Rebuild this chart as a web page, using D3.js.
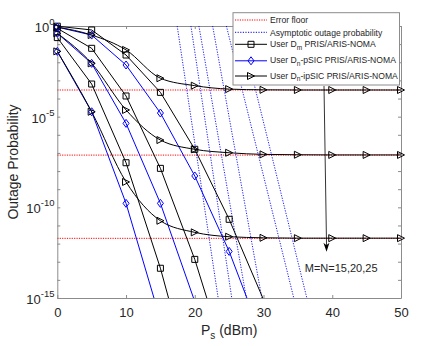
<!DOCTYPE html>
<html>
<head>
<meta charset="utf-8">
<script src="https://cdn.jsdelivr.net/npm/d3@7"></script>
<style>
  body { margin: 0; background: #fff; }
  text { font-family: "Liberation Sans", Arial, sans-serif; fill: #262626; }
</style>
</head>
<body>
<script>
// transmit power, dBm
const ps = [0, 5, 10, 15, 20, 25, 30, 35, 40, 45, 50];

// log10 of outage probability (null = below the axis)
const dm15 = [-0.01, -0.22, -1.6, -3.66, -6.8, -10.66, -15.09, null, null, null, null];
const dm20 = [-0.13, -1.23, -3.86, -7.85, -12.87, -18.96, null, null, null, null, null];
const dm25 = [-0.64, -3.2, -7.54, -13.36, -20.3, null, null, null, null, null, null];
const psic15 = [-0.06, -0.5, -2.15, -4.8, -8.27, -12.43, -17.4, null, null, null, null];
const psic20 = [-0.4, -2.06, -5.37, -9.78, -15.2, null, null, null, null, null, null];
const psic25 = [-1.4, -4.73, -9.78, -16.2, null, null, null, null, null, null, null];
const ipsic15 = [-0.06, -0.5, -1.32, -2.88, -3.29, -3.48, -3.52, -3.53, -3.53, -3.53, -3.53];
const ipsic20 = [-0.4, -2.06, -4.63, -6.29, -6.8, -6.99, -7.08, -7.1, -7.11, -7.11, -7.11];
const ipsic25 = [-1.4, -4.73, -8.6, -10.74, -11.38, -11.62, -11.68, -11.7, -11.7, -11.7, -11.7];

// error floors (log10)
const floors = [-3.53, -7.12, -11.71];

// asymptotic lines: Ps where they cross 10^0 and 10^-15
const asymTop = [17.44, 19.44, 20.6, 22.6, 24.6, 26.55];
const asymBottom = [23.4, 25.38, 27.5, 29.75, 34.4, 36.3];

const xTicks = [0, 10, 20, 30, 40, 50];
const yLabelExps = [0, -5, -10, -15];

const width = 443, height = 346;
const x = d3.scaleLinear().domain([0, 50]).range([57.3, 401]);
const y = d3.scaleLog().domain([1e-15, 1]).range([298, 26]);

const svg = d3.select("body").append("svg")
  .attr("width", width).attr("height", height);

svg.append("defs").append("clipPath").attr("id", "plot")
  .append("rect")
  .attr("x", x(0)).attr("y", y(1))
  .attr("width", x(50) - x(0)).attr("height", y(1e-15) - y(1));

// axes
const axisColor = "#8c8c8c";
const decades = d3.range(-15, 1).map(e => Math.pow(10, e));

function styleAxis(g) {
  g.selectAll("path.domain").attr("stroke", axisColor);
  g.selectAll(".tick line").attr("stroke", axisColor);
}

svg.append("g").attr("transform", `translate(0,${y(1e-15)})`)
  .call(d3.axisBottom(x).tickValues(xTicks).tickSizeInner(-3).tickSizeOuter(0).tickPadding(10))
  .call(styleAxis)
  .call(g => g.selectAll("text").attr("font-size", 13).attr("fill", "#262626")
    .style("font-family", "'Liberation Sans', Arial, sans-serif"));

svg.append("g").attr("transform", `translate(0,${y(1)})`)
  .call(d3.axisTop(x).tickValues(xTicks).tickSizeInner(-3).tickSizeOuter(0).tickFormat(""))
  .call(styleAxis);

svg.append("g").attr("transform", `translate(${x(0)},0)`)
  .call(d3.axisLeft(y).tickValues(decades).tickSizeInner(-3).tickSizeOuter(0).tickFormat(""))
  .call(styleAxis);

svg.append("g").attr("transform", `translate(${x(50)},0)`)
  .call(d3.axisRight(y).tickValues(decades).tickSizeInner(-3).tickSizeOuter(0).tickFormat(""))
  .call(styleAxis);

const yl = svg.selectAll("text.ylab").data(yLabelExps).enter().append("text")
  .attr("class", "ylab")
  .attr("x", 54.5)
  .attr("y", d => y(Math.pow(10, d)) + 6)
  .attr("text-anchor", "end")
  .attr("font-size", 13);
yl.append("tspan").text("10");
yl.append("tspan").attr("dy", -7).attr("font-size", 9.5).text(d => d);

// axis labels
const xl = svg.append("text")
  .attr("x", (x(0) + x(50)) / 2).attr("y", 335)
  .attr("text-anchor", "middle").attr("font-size", 14);
xl.append("tspan").text("P");
xl.append("tspan").attr("dy", 4).attr("font-size", 10).text("s");
xl.append("tspan").attr("dy", -4).text(" (dBm)");

svg.append("text")
  .attr("transform", `translate(18,${(y(1) + y(1e-15)) / 2}) rotate(-90)`)
  .attr("text-anchor", "middle").attr("font-size", 14)
  .text("Outage Probability");

// plot content
const plot = svg.append("g").attr("clip-path", "url(#plot)");

plot.selectAll("line.floor").data(floors).enter().append("line")
  .attr("class", "floor")
  .attr("x1", x(0)).attr("x2", x(50))
  .attr("y1", d => y(Math.pow(10, d))).attr("y2", d => y(Math.pow(10, d)))
  .attr("stroke", "#ff0000").attr("stroke-width", 1)
  .attr("stroke-dasharray", "1.2,1.2");

plot.selectAll("line.asym").data(asymTop).enter().append("line")
  .attr("class", "asym")
  .attr("x1", d => x(d)).attr("y1", y(1))
  .attr("x2", (d, i) => x(asymBottom[i])).attr("y2", y(1e-15))
  .attr("stroke", "#0000ff").attr("stroke-width", 0.9)
  .attr("stroke-dasharray", "1.2,1.4");

const series = [
  { v: dm15, color: "#000", marker: "square", smooth: false },
  { v: dm20, color: "#000", marker: "square", smooth: false },
  { v: dm25, color: "#000", marker: "square", smooth: false },
  { v: psic15, color: "#0000ff", marker: "diamond", smooth: false },
  { v: psic20, color: "#0000ff", marker: "diamond", smooth: false },
  { v: psic25, color: "#0000ff", marker: "diamond", smooth: false },
  { v: ipsic15, color: "#000", marker: "tri", smooth: true },
  { v: ipsic20, color: "#000", marker: "tri", smooth: true },
  { v: ipsic25, color: "#000", marker: "tri", smooth: true }
];

const line = d3.line()
  .defined(d => d[1] !== null)
  .x(d => x(d[0]))
  .y(d => y(Math.pow(10, d[1])));

const markerPath = {
  square: "M-3,-3H3V3H-3Z",
  diamond: "M0,-4L3,0L0,4L-3,0Z",
  tri: "M-3.5,-3.5L3.5,0L-3.5,3.5Z"
};

series.forEach(s => {
  const pts = ps.map((p, i) => [p, s.v[i]]);
  line.curve(s.smooth ? d3.curveMonotoneX : d3.curveLinear);
  plot.append("path")
    .attr("d", line(pts))
    .attr("fill", "none").attr("stroke", s.color).attr("stroke-width", 1);
});

const markers = svg.append("g");
series.forEach(s => {
  const pts = ps.map((p, i) => [p, s.v[i]]).filter(d => d[1] !== null && d[1] >= -15);
  markers.selectAll(null).data(pts).enter().append("path")
    .attr("transform", d => `translate(${x(d[0])},${y(Math.pow(10, d[1]))})`)
    .attr("d", markerPath[s.marker])
    .attr("fill", "none").attr("stroke", s.color).attr("stroke-width", 1);
});

// annotation arrow
const arrowFrom = [38.8, -3.31], arrowTo = [39.17, -12.45];
const ax1 = x(arrowFrom[0]), ay1 = y(Math.pow(10, arrowFrom[1]));
const ax2 = x(arrowTo[0]), ay2 = y(Math.pow(10, arrowTo[1]));
svg.append("line")
  .attr("x1", ax1).attr("y1", ay1).attr("x2", ax2).attr("y2", ay2 - 5)
  .attr("stroke", "#000").attr("stroke-width", 0.8);
const ang = Math.atan2(ay2 - ay1, ax2 - ax1) * 180 / Math.PI;
svg.append("path")
  .attr("transform", `translate(${ax2},${ay2}) rotate(${ang})`)
  .attr("d", "M0,0L-9,-3L-6.5,0L-9,3Z")
  .attr("fill", "#000");

svg.append("text")
  .attr("x", x(36.0)).attr("y", y(Math.pow(10, -13.54)))
  .attr("font-size", 11)
  .text("M=N=15,20,25");

// legend
const legend = svg.append("g");
legend.append("rect")
  .attr("x", 233).attr("y", 12.7).attr("width", 166.5).attr("height", 72.3)
  .attr("fill", "#fff").attr("stroke", axisColor).attr("stroke-width", 1);

const legendRows = [
  { y: 20, color: "#ff0000", dash: "1.2,1.2", marker: null, parts: [["Error floor"]] },
  { y: 32.3, color: "#0000ff", dash: "1.2,1.4", marker: null, parts: [["Asymptotic outage probability"]] },
  { y: 44.3, color: "#000", dash: null, marker: "square", parts: [["User D"], ["m", 1], [" PRIS/ARIS-NOMA"]] },
  { y: 60.8, color: "#0000ff", dash: null, marker: "diamond", parts: [["User D"], ["n", 1], ["-pSIC PRIS/ARIS-NOMA"]] },
  { y: 76, color: "#000", dash: null, marker: "tri", parts: [["User D"], ["n", 1], ["-ipSIC PRIS/ARIS-NOMA"]] }
];

legendRows.forEach(r => {
  legend.append("line")
    .attr("x1", 235).attr("x2", 267).attr("y1", r.y).attr("y2", r.y)
    .attr("stroke", r.color).attr("stroke-width", 1)
    .attr("stroke-dasharray", r.dash);
  if (r.marker) {
    legend.append("path")
      .attr("transform", `translate(251,${r.y})`)
      .attr("d", markerPath[r.marker])
      .attr("fill", "none").attr("stroke", r.color).attr("stroke-width", 1);
  }
  const t = legend.append("text")
    .attr("x", 270).attr("y", r.y + (r.parts.length > 1 ? 2.6 : 3.2))
    .attr("font-size", 8.6);
  let sub = false;
  r.parts.forEach(p => {
    const ts = t.append("tspan").text(p[0]);
    if (p[1]) { ts.attr("dy", 2.8).attr("font-size", 6.5); sub = true; }
    else if (sub) { ts.attr("dy", -2.8); sub = false; }
  });
});
</script>
</body>
</html>
